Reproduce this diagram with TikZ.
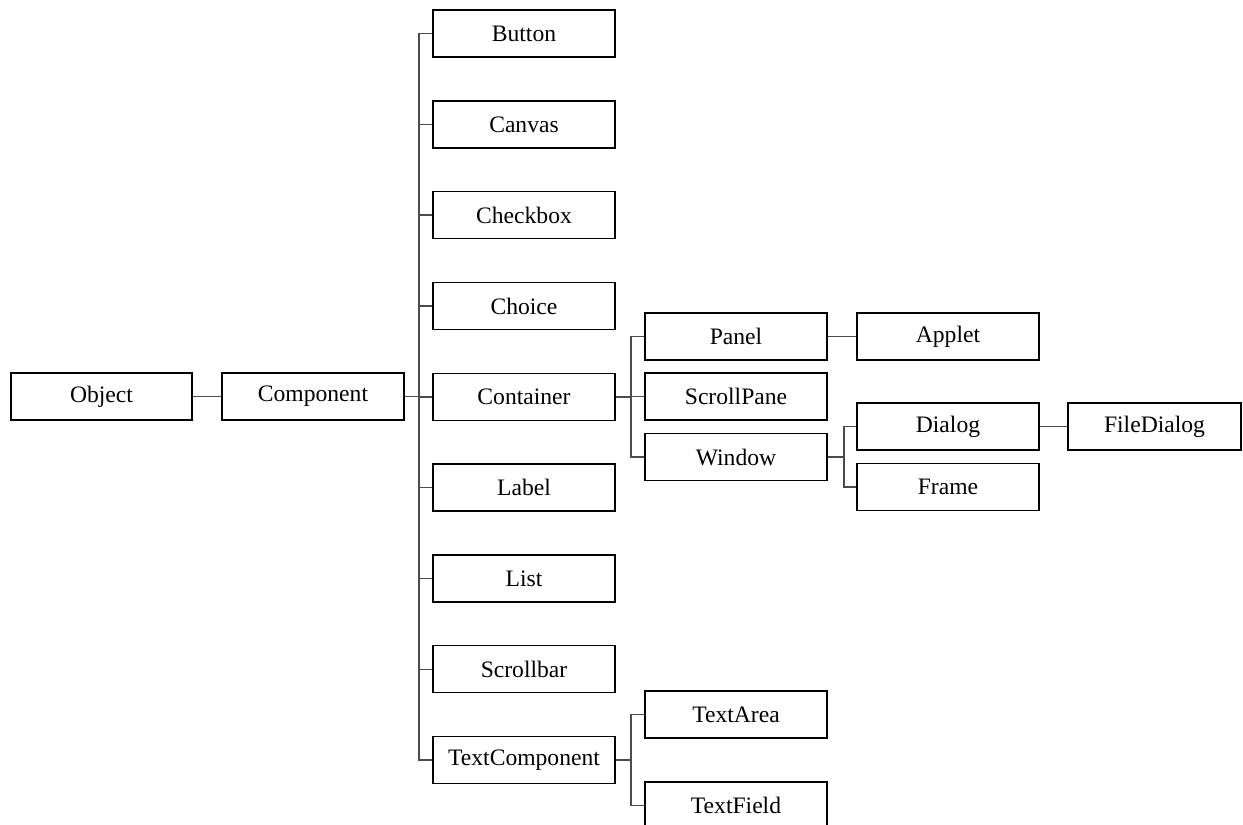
\documentclass[tikz,border=0pt]{standalone}
\usepackage{fontspec}
\setmainfont{Liberation Serif}
\begin{document}
\begin{tikzpicture}[x=0.5pt,y=-0.5pt,
  cls/.style={draw=black,line width=0.7pt,minimum height=23.5pt,inner sep=0pt,
    font=\fontsize{11.8}{14}\selectfont},
  wA/.style={cls,minimum width=90.5pt},
  wB/.style={cls,minimum width=91pt},
  wC/.style={cls,minimum width=86.5pt},
  conn/.style={draw=black!70,line width=0.7pt}]
\useasboundingbox (0,0) rectangle (1243,825);
\clip (0,0) rectangle (1243,825);
% column 1-2
\node[wA] (object) at (101.5,396.5) {Object};
\node[wB] (component) at (313,396.5) {Component};
% column 3
\node[wB] (button) at (524,33.5) {Button};
\node[wB] (canvas) at (524,124.3) {Canvas};
\node[wB] (checkbox) at (524,215.1) {Checkbox};
\node[wB] (choice) at (524,306) {Choice};
\node[wB] (container) at (524,396.8) {Container};
\node[wB] (label) at (524,487.6) {Label};
\node[wB] (list) at (524,578.4) {List};
\node[wB] (scrollbar) at (524,669.2) {Scrollbar};
\node[wB] (textcomp) at (524,760) {TextComponent};
% column 4
\node[wB] (panel) at (736,336.5) {Panel};
\node[wB] (scrollpane) at (736,396.5) {ScrollPane};
\node[wB] (window) at (736,457) {Window};
\node[wB] (textarea) at (736,714.5) {TextArea};
\node[wB] (textfield) at (736,805.5) {TextField};
% column 5
\node[wB] (applet) at (948,336.5) {Applet};
\node[wB] (dialog) at (948,426.5) {Dialog};
\node[wB] (frame) at (948,487) {Frame};
% column 6
\node[wC] (filedialog) at (1154.5,426.5) {FileDialog};
% buses
\coordinate (bA) at (419,396.5);
\coordinate (bB) at (631,396.8);
\coordinate (bC) at (844,457);
\coordinate (bD) at (631,760);
% connectors
\draw[conn] (object.east) -- (component.west);
\draw[conn] (component.east) -- (bA);
\foreach \c in {button,canvas,checkbox,choice,container,label,list,scrollbar,textcomp}
  \draw[conn] (bA) |- (\c.west);
\draw[conn] (container.east) -- (bB);
\foreach \c in {panel,scrollpane,window}
  \draw[conn] (bB) |- (\c.west);
\draw[conn] (panel.east) -- (applet.west);
\draw[conn] (window.east) -- (bC);
\foreach \c in {dialog,frame}
  \draw[conn] (bC) |- (\c.west);
\draw[conn] (dialog.east) -- (filedialog.west);
\draw[conn] (textcomp.east) -- (bD);
\foreach \c in {textarea,textfield}
  \draw[conn] (bD) |- (\c.west);
\end{tikzpicture}
\end{document}
